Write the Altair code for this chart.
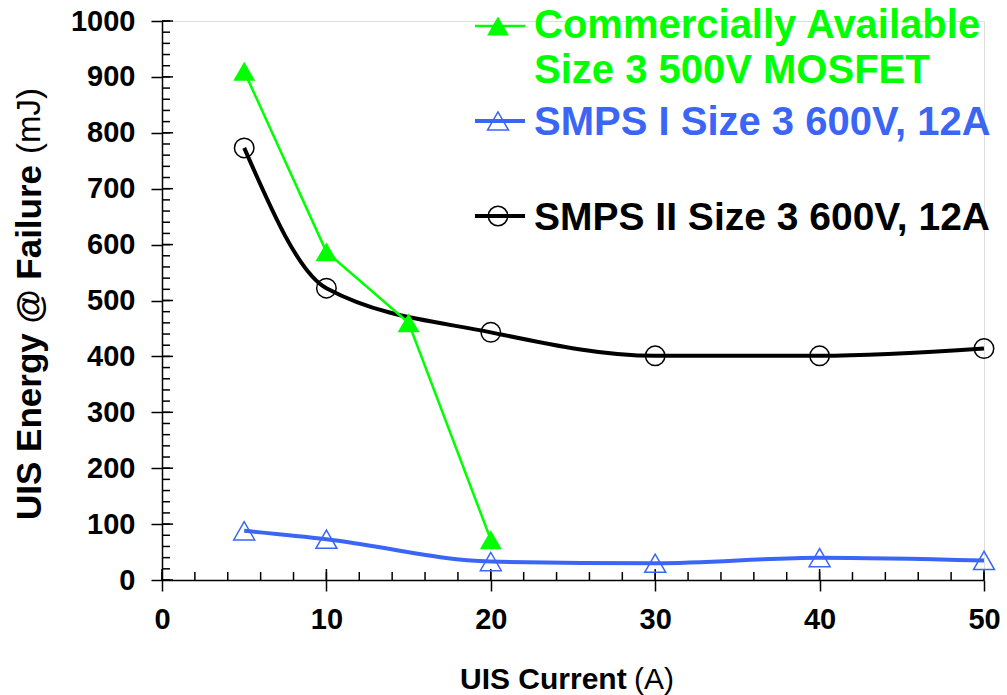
import altair as alt
import pandas as pd

# ---- data ----
comm_x = [5, 10, 15, 20]
comm_y = [910, 587, 460, 72]

smps1_x = [5, 10, 20, 30, 40, 50]
smps1_y = [88, 73, 33, 30, 40, 35]

smps2_x = [5, 10, 20, 30, 40, 50]
smps2_y = [773, 522, 443, 401, 401, 414]

x_ticks = [0, 10, 20, 30, 40, 50]
y_ticks = list(range(0, 1001, 100))
x_minor = list(range(0, 51, 2))
y_minor = list(range(0, 1001, 20))

legend_names = ["Commercially Available", "Size 3 500V MOSFET",
                "SMPS I Size 3 600V, 12A", "SMPS II Size 3 600V, 12A"]

GREEN = "#00ff00"
BLUE = "#3b66f5"
BLACK = "#000000"
FONT = "Liberation Sans"

W, H = 822, 559
PAD_L, PAD_T = 162, 21

df_comm = pd.DataFrame({"x": comm_x, "y": comm_y})
df_s1 = pd.DataFrame({"x": smps1_x, "y": smps1_y})
df_s2 = pd.DataFrame({"x": smps2_x, "y": smps2_y})

xs = alt.Scale(domain=[0, 50], nice=False, zero=False)
ys = alt.Scale(domain=[0, 1000], nice=False, zero=False)

common_axis = dict(grid=False, title=None, domainColor=BLACK, tickColor=BLACK,
                   labelColor=BLACK, labelFont=FONT, labelFontWeight="bold",
                   labelFontSize=29, domainWidth=1.5, tickWidth=1.5,
                   labelFlush=False, labelOverlap=False)

major_x = alt.Axis(orient="bottom", values=x_ticks, tickSize=11, labelPadding=14,
                   format="d", **common_axis)
major_y = alt.Axis(orient="left", values=y_ticks, tickSize=11, labelPadding=16,
                   format="d", **common_axis)

axes_major = alt.Chart(df_s2).mark_point(opacity=0).encode(
    x=alt.X("x:Q", scale=xs, axis=major_x),
    y=alt.Y("y:Q", scale=ys, axis=major_y),
)

# inner (minor + major) ticks drawn from the tick lists through the scales
df_xminor = pd.DataFrame({"x": x_minor})
df_yminor = pd.DataFrame({"y": y_minor})
df_xmajor = pd.DataFrame({"x": x_ticks})
df_ymajor = pd.DataFrame({"y": y_ticks})

tick_style = dict(color=BLACK, thickness=1.5, opacity=1)

x_minor_ticks = alt.Chart(df_xminor).mark_tick(orient="vertical", size=8, **tick_style).encode(
    x=alt.X("x:Q", scale=xs, axis=None), y=alt.value(H - 4))
x_major_ticks = alt.Chart(df_xmajor).mark_tick(orient="vertical", size=11, **tick_style).encode(
    x=alt.X("x:Q", scale=xs, axis=None), y=alt.value(H - 5.5))
y_minor_ticks = alt.Chart(df_yminor).mark_tick(orient="horizontal", size=8, **tick_style).encode(
    y=alt.Y("y:Q", scale=ys, axis=None), x=alt.value(4))
y_major_ticks = alt.Chart(df_ymajor).mark_tick(orient="horizontal", size=11, **tick_style).encode(
    y=alt.Y("y:Q", scale=ys, axis=None), x=alt.value(5.5))


def enc(chart):
    return chart.encode(
        x=alt.X("x:Q", scale=xs, axis=None),
        y=alt.Y("y:Q", scale=ys, axis=None),
    )


s2_line = enc(alt.Chart(df_s2).mark_line(color=BLACK, strokeWidth=4, interpolate="monotone"))
s2_pts = enc(alt.Chart(df_s2).mark_point(shape="circle", size=380, filled=False,
                                          color=BLACK, strokeWidth=1.5, opacity=1))
s1_line = enc(alt.Chart(df_s1).mark_line(color=BLUE, strokeWidth=4, interpolate="monotone"))
s1_pts = enc(alt.Chart(df_s1).mark_point(shape="triangle-up", size=440, filled=False,
                                          color=BLUE, strokeWidth=1.5, opacity=1))
c_line = enc(alt.Chart(df_comm).mark_line(color=GREEN, strokeWidth=2.5))
c_pts = enc(alt.Chart(df_comm).mark_point(shape="triangle-up", size=480, filled=True,
                                           color=GREEN, opacity=1))

# ---- legend (drawn by hand, right top) ----
one = pd.DataFrame({"a": [0]})


def ltext(txt, x, y, color, size=40, weight="bold", angle=0, align="left"):
    return alt.Chart(one).mark_text(text=txt, font=FONT, fontSize=size, fontWeight=weight,
                                    color=color, align=align, baseline="middle",
                                    angle=angle).encode(x=alt.value(x), y=alt.value(y))


def lrule(y, color, width):
    return alt.Chart(one).mark_rule(color=color, strokeWidth=width).encode(
        x=alt.value(313), x2=alt.value(363), y=alt.value(y))


def lpoint(y, color, shape, filled, size):
    return alt.Chart(one).mark_point(shape=shape, filled=filled, color=color, size=size,
                                     strokeWidth=1.5, opacity=1).encode(
        x=alt.value(336), y=alt.value(y))


legend = [
    lrule(5, GREEN, 2.5), lpoint(5, GREEN, "triangle-up", True, 480),
    ltext(legend_names[0], 372, 5, GREEN), ltext(legend_names[1], 372, 50, GREEN),
    lrule(100, BLUE, 4), lpoint(100, BLUE, "triangle-up", False, 440),
    ltext(legend_names[2], 372, 102, BLUE),
    lrule(195, BLACK, 4), lpoint(195, BLACK, "circle", False, 380),
    ltext(legend_names[3], 372, 197, BLACK, size=39),
]

titles = [
    ltext("UIS Energy @ Failure", -132, 499, BLACK, size=35, angle=270),
    ltext("(mJ)", -132, 133, BLACK, size=33, weight="normal", angle=270),
    ltext("UIS Current", 298, 659, BLACK, size=30),
    ltext("(A)", 472, 659, BLACK, size=30, weight="normal"),
]

chart = alt.layer(
    axes_major, x_minor_ticks, x_major_ticks, y_minor_ticks, y_major_ticks,
    s2_line, s2_pts, s1_line, s1_pts, c_line, c_pts,
    *legend, *titles
).resolve_axis(x="independent", y="independent").properties(
    width=W, height=H,
    autosize=alt.AutoSizeParams(type="none"),
    padding={"left": PAD_L, "top": PAD_T, "right": 1007 - PAD_L - W, "bottom": 695 - PAD_T - H},
).configure_view(stroke=None).configure(background="white")

chart.save("out.html", embed_options={"renderer": "svg", "actions": False})
